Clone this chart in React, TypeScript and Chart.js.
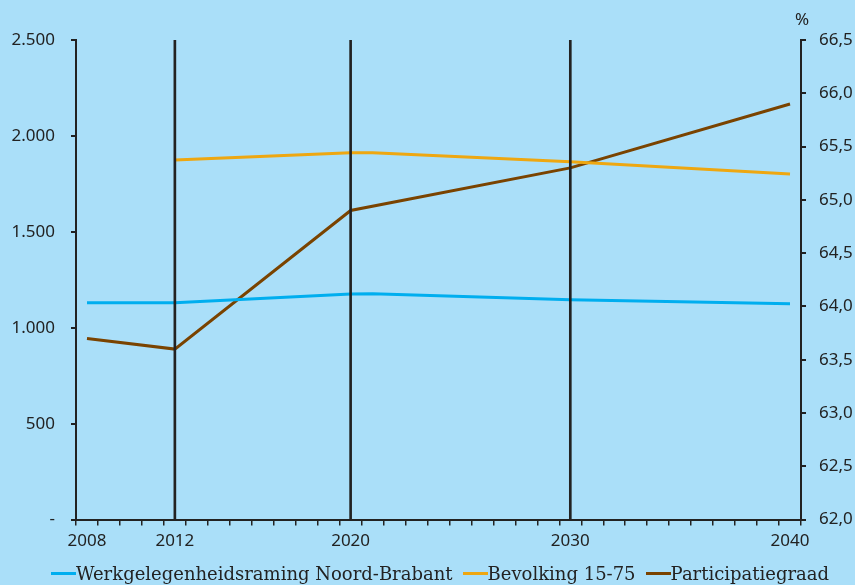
import React, { useEffect, useRef } from "react";
import { Chart, registerables } from "chart.js";

Chart.register(...registerables);

const years: string[] = [];
for (let y = 2008; y <= 2040; y++) years.push(String(y));

const shownYears = ["2008", "2012", "2020", "2030", "2040"];

const werkYears = ["2008", "2012", "2020", "2021", "2030", "2040"];
const werkValues = [1130, 1130, 1176, 1177, 1146, 1125];

const bevYears = ["2012", "2020", "2021", "2030", "2040"];
const bevValues = [1875, 1912, 1912, 1865, 1802];

const partYears = ["2008", "2012", "2020", "2030", "2040"];
const partValues = [63.7, 63.6, 64.9, 65.3, 65.9];

const markerYears = ["2012", "2020", "2030"];
const markerValue = 2500;

const leftTicks = [0, 500, 1000, 1500, 2000, 2500];
const rightTicks = [62, 62.5, 63, 63.5, 64, 64.5, 65, 65.5, 66, 66.5];

const seriesNames = ["Werkgelegenheidsraming Noord-Brabant", "Bevolking 15-75", "Participatiegraad"];
const seriesColors = ["#00aeef", "#eea711", "#7a4300"];

const BG = "#aadff9";
const INK = "#222222";

function toSeries(keys: string[], vals: number[]): (number | null)[] {
  return years.map((y) => {
    const i = keys.indexOf(y);
    return i >= 0 ? vals[i] : null;
  });
}

function fmtThousands(v: number): string {
  if (v === 0) return "-";
  const s = String(Math.round(v));
  return s.replace(/\B(?=(\d{3})+(?!\d))/g, ".");
}

const percentPlugin = {
  id: "percentLabel",
  afterDraw(chart: any) {
    const s = chart.scales.y1;
    const ctx = chart.ctx;
    ctx.save();
    ctx.font = "17px 'Noto Sans'";
    ctx.fillStyle = INK;
    ctx.textAlign = "center";
    ctx.textBaseline = "middle";
    ctx.fillText("%", s.left + 1, chart.chartArea.top - 20);
    ctx.restore();
  },
};

export default function App() {
  const ref = useRef<HTMLCanvasElement | null>(null);

  useEffect(() => {
    document.body.style.background = BG;
    const canvas = ref.current;
    if (!canvas) return;
    const chart = new Chart(canvas, {
      type: "line",
      data: {
        labels: years,
        datasets: [
          {
            type: "bar",
            label: "markers",
            data: toSeries(markerYears, markerYears.map(() => markerValue)),
            backgroundColor: INK,
            barThickness: 2,
            yAxisID: "y",
            order: 0,
          } as any,
          {
            label: seriesNames[0],
            data: toSeries(werkYears, werkValues),
            borderColor: seriesColors[0],
            backgroundColor: seriesColors[0],
            borderWidth: 3,
            pointRadius: 0,
            spanGaps: true,
            yAxisID: "y",
            order: 1,
          },
          {
            label: seriesNames[1],
            data: toSeries(bevYears, bevValues),
            borderColor: seriesColors[1],
            backgroundColor: seriesColors[1],
            borderWidth: 3,
            pointRadius: 0,
            spanGaps: true,
            yAxisID: "y",
            order: 1,
          },
          {
            label: seriesNames[2],
            data: toSeries(partYears, partValues),
            borderColor: seriesColors[2],
            backgroundColor: seriesColors[2],
            borderWidth: 3,
            pointRadius: 0,
            spanGaps: true,
            yAxisID: "y1",
            order: 1,
          },
        ],
      },
      options: {
        animation: false,
        responsive: false,
        maintainAspectRatio: false,
        layout: { padding: { left: 0, right: 0, top: 40, bottom: 29 } },
        plugins: {
          legend: { display: false },
          tooltip: { enabled: false },
        },
        scales: {
          x: {
            type: "category",
            offset: true,
            grid: {
              display: true,
              offset: true,
              drawOnChartArea: false,
              drawTicks: true,
              tickLength: 6,
              color: INK,
              lineWidth: 1.5,
            },
            border: { display: true, color: INK, width: 2 },
            ticks: {
              autoSkip: false,
              maxRotation: 0,
              padding: 5,
              color: INK,
              font: { family: "Noto Sans", size: 17 },
              callback: function (this: any, val: any, idx: number) {
                const lab = years[idx];
                return shownYears.includes(lab) ? lab : "";
              },
            },
          },
          y: {
            type: "linear",
            position: "left",
            min: 0,
            max: 2500,
            afterBuildTicks: (scale: any) => {
              scale.ticks = leftTicks.map((v) => ({ value: v }));
            },
            afterFit: (scale: any) => {
              scale.width = 76;
            },
            grid: {
              drawOnChartArea: false,
              drawTicks: true,
              tickLength: 5,
              color: INK,
              lineWidth: 2,
            },
            border: { display: true, color: INK, width: 2 },
            ticks: {
              padding: 16,
              color: INK,
              font: { family: "Noto Sans", size: 17 },
              callback: (v: any) => fmtThousands(Number(v)),
            },
          },
          y1: {
            type: "linear",
            position: "right",
            min: 62,
            max: 66.5,
            afterBuildTicks: (scale: any) => {
              scale.ticks = rightTicks.map((v) => ({ value: v }));
            },
            afterFit: (scale: any) => {
              scale.width = 54;
            },
            grid: {
              drawOnChartArea: false,
              drawTicks: true,
              tickLength: 5,
              color: INK,
              lineWidth: 2,
            },
            border: { display: true, color: INK, width: 2 },
            ticks: {
              padding: 13,
              color: INK,
              font: { family: "Noto Sans", size: 17 },
              callback: (v: any) => Number(v).toFixed(1).replace(".", ","),
            },
          },
        },
      },
      plugins: [percentPlugin],
    } as any);
    return () => chart.destroy();
  }, []);

  return (
    <div
      style={{
        position: "absolute",
        left: 0,
        top: 0,
        width: 855,
        height: 585,
        background: BG,
        overflow: "hidden",
      }}
    >
      <canvas ref={ref} width={855} height={585} style={{ width: 855, height: 585, display: "block" }} />
      <div
        style={{
          position: "absolute",
          left: 0,
          top: 563,
          width: 880,
          display: "flex",
          justifyContent: "center",
          alignItems: "center",
          fontFamily: "'DejaVu Serif'",
          fontSize: 18,
          color: INK,
          whiteSpace: "nowrap",
        }}
      >
        {seriesNames.map((n, i) => (
          <div key={n} style={{ display: "flex", alignItems: "center", marginRight: i < 2 ? 10 : 0 }}>
            <span style={{ display: "inline-block", width: 25, height: 3, background: seriesColors[i] }} />
            <span>{n}</span>
          </div>
        ))}
      </div>
    </div>
  );
}
